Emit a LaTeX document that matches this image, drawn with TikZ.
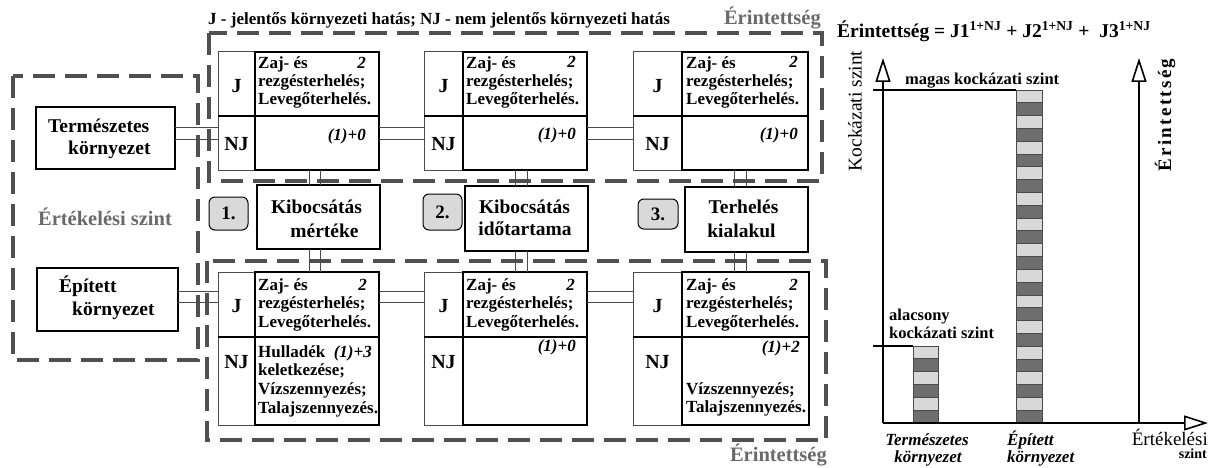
\documentclass[tikz,border=0pt]{standalone}
\usepackage{fontspec}
\setmainfont{Liberation Serif}
\usetikzlibrary{arrows.meta}
\definecolor{dashgray}{HTML}{505050}
\definecolor{labgray}{HTML}{6A6A6A}
\definecolor{numfill}{HTML}{D9D9D9}
\definecolor{stripelight}{HTML}{D8D8D8}
\definecolor{stripedark}{HTML}{6E6E6E}
\definecolor{linegray}{HTML}{4A4A4A}

\tikzset{
  region/.style={draw=dashgray, line width=4pt, dash pattern=on 22pt off 10pt},
  boxnode/.style={draw, line width=1.8pt, inner sep=0pt, outer sep=0pt, anchor=north west},
  jcol/.style={draw=linegray, line width=1pt, inner sep=0pt, outer sep=0pt, anchor=north west},
  conn/.style={draw=linegray, line width=1pt},
  divider/.style={draw=black, line width=1.2pt},
  celltxt/.style={inner sep=0pt, font=\bfseries\fontsize{17}{18}\selectfont},
  numtxt/.style={inner sep=0pt, anchor=base east, font=\bfseries\itshape\fontsize{17}{18}\selectfont},
  jlab/.style={inner sep=0pt, font=\bfseries\fontsize{20}{22}\selectfont},
  boxtxt/.style={inner sep=0pt, anchor=base, font=\bfseries\fontsize{19.5}{22}\selectfont},
  numbox/.style={draw, line width=1pt, fill=numfill, rounded corners=6pt, inner sep=0pt,
    font=\bfseries\fontsize{19}{20}\selectfont},
  graylab/.style={inner sep=0pt, text=labgray, font=\bfseries\fontsize{20.5}{22}\selectfont},
  axis/.style={draw=black, line width=2pt,
    -{Triangle[open, length=24pt, width=15pt, line width=1.6pt]}},
  levelline/.style={draw=black, line width=1.2pt},
  charttxt/.style={inner sep=0pt, font=\bfseries\fontsize{16.5}{18}\selectfont},
  xlab/.style={inner sep=0pt, anchor=base, font=\bfseries\itshape\fontsize{17}{18}\selectfont},
}

% lines of text in a cell: x, first baseline, pitch, lines
\newcommand\celllines[4]{%
  \foreach \t [count=\k from 0] in {#4}{%
    \node[celltxt, anchor=base west] at (#1, {#2+\k*#3}) {\t};}}

% striped risk bar: left, right, top, number of stripes, stripe height
\newcommand\riskbar[5]{%
  \foreach \i in {1,...,#4}{%
    \pgfmathtruncatemacro\oddi{mod(\i,2)}%
    \ifnum\oddi=1 \def\sc{stripelight}\else\def\sc{stripedark}\fi
    \filldraw[fill=\sc, draw=linegray, line width=0.8pt]
      (#1, {#3+(\i-1)*#5}) rectangle (#2, {#3+\i*#5});}}

\begin{document}
\begin{tikzpicture}[x=1pt, y=-1pt]
\useasboundingbox (0,0) rectangle (1210,468);

% ---------- dashed regions ----------
\draw[region] (13,76) rectangle (198,360);
\draw[region] (209,33) rectangle (822,181);
\draw[region] (207,261) rectangle (826,440);

\node[graylab] (evalnote) at (105,217) {Értékelési szint};
\node[graylab, anchor=base east] (affTop) at (821,25) {Érintettség};
\node[graylab, anchor=base east] (affBot) at (827,461) {Érintettség};

\node[anchor=base west, inner sep=0pt, font=\bfseries\fontsize{17}{20}\selectfont] (legend)
  at (208,25) {J - jelentős környezeti hatás; NJ - nem jelentős környezeti hatás};

% ---------- environment boxes ----------
\node[boxnode, minimum width=139pt, minimum height=62pt] (tk) at (36,107) {};
\node[boxtxt, anchor=base west] at (48,133) {Természetes};
\node[boxtxt, anchor=base west] at (68,154) {környezet};

\node[boxnode, minimum width=141pt, minimum height=63pt] (ep) at (37,268) {};
\node[boxtxt, anchor=base west] at (59,292) {Épített};
\node[boxtxt, anchor=base west] at (72,315) {környezet};

% ---------- upper cells ----------
\node[jcol, minimum width=37pt, minimum height=118pt] (c1j) at (218,52) {};
\node[boxnode, minimum width=124pt, minimum height=118pt] (c1) at (255,52) {};
\node[jcol, minimum width=39pt, minimum height=118pt] (c2j) at (424,52) {};
\node[boxnode, minimum width=124pt, minimum height=118pt] (c2) at (463,52) {};
\node[jcol, minimum width=49pt, minimum height=118pt] (c3j) at (633,52) {};
\node[boxnode, minimum width=126pt, minimum height=118pt] (c3) at (682,52) {};
\foreach \a/\b in {c1j/c1, c2j/c2, c3j/c3}{
  \draw[divider] (\a.west |- 0,116) -- (\b.east |- 0,116);}

% ---------- lower cells ----------
\node[jcol, minimum width=37pt, minimum height=153pt] (b1j) at (218,272) {};
\node[boxnode, minimum width=124pt, minimum height=153pt] (b1) at (255,272) {};
\node[jcol, minimum width=39pt, minimum height=153pt] (b2j) at (424,272) {};
\node[boxnode, minimum width=124pt, minimum height=153pt] (b2) at (463,272) {};
\node[jcol, minimum width=49pt, minimum height=153pt] (b3j) at (633,272) {};
\node[boxnode, minimum width=127pt, minimum height=153pt] (b3) at (682,272) {};
\foreach \a/\b in {b1j/b1, b2j/b2, b3j/b3}{
  \draw[divider] (\a.west |- 0,337) -- (\b.east |- 0,337);}

% J / NJ labels
\foreach \c in {c1j, c2j, c3j}{
  \node[jlab] at (\c.center |- 0,86) {J};
  \node[jlab] at (\c.center |- 0,144) {NJ};}
\foreach \c in {b1j, b2j, b3j}{
  \node[jlab] at (\c.center |- 0,306) {J};
  \node[jlab] at (\c.center |- 0,362) {NJ};}

% cell contents
\celllines{258}{69}{18}{Zaj- és, rezgésterhelés;, Levegőterhelés.}
\celllines{466}{69}{18}{Zaj- és, rezgésterhelés;, Levegőterhelés.}
\celllines{686}{69}{18}{Zaj- és, rezgésterhelés;, Levegőterhelés.}
\celllines{258}{290}{18.7}{Zaj- és, rezgésterhelés;, Levegőterhelés.}
\celllines{466}{290}{18.7}{Zaj- és, rezgésterhelés;, Levegőterhelés.}
\celllines{686}{290}{18.7}{Zaj- és, rezgésterhelés;, Levegőterhelés.}
\celllines{258}{357}{18.7}{Hulladék, keletkezése;, Vízszennyezés;, Talajszennyezés.}
\celllines{686}{394}{18.7}{Vízszennyezés;, Talajszennyezés.}

\node[numtxt] at (366,69) {2};
\node[numtxt] at (576,68) {2};
\node[numtxt] at (798,68) {2};
\node[numtxt] at (366,141) {(1)+0};
\node[numtxt] at (576,140) {(1)+0};
\node[numtxt] at (798,140) {(1)+0};
\node[numtxt] at (367,290) {2};
\node[numtxt] at (575,290) {2};
\node[numtxt] at (798,290) {2};
\node[numtxt] at (372,357) {(1)+3};
\node[numtxt] at (576,351) {(1)+0};
\node[numtxt] at (800,352) {(1)+2};

% ---------- emission boxes ----------
\node[boxnode, minimum width=123pt, minimum height=64pt] (k1) at (257,185) {};
\node[boxtxt] at (316.5,213) {Kibocsátás};
\node[boxtxt] at (324.5,237) {mértéke};
\node[boxnode, minimum width=123pt, minimum height=65pt] (k2) at (465,186) {};
\node[boxtxt] at (524.5,213) {Kibocsátás};
\node[boxtxt] at (525,235) {időtartama};
\node[boxnode, minimum width=123pt, minimum height=65pt] (k3) at (685,187) {};
\node[boxtxt] at (743.5,213) {Terhelés};
\node[boxtxt] at (741.5,237) {kialakul};

\node[numbox, minimum width=39pt, minimum height=33pt] (n1) at (228.5,213.5) {1.};
\node[numbox, minimum width=39pt, minimum height=36pt] (n2) at (442.5,212) {2.};
\node[numbox, minimum width=40pt, minimum height=30pt] (n3) at (658,214) {3.};

% ---------- double connectors ----------
\foreach \y in {128,140}{
  \draw[conn] (tk.east |- 0,\y) -- (c1j.west |- 0,\y);
  \draw[conn] (c1.east |- 0,\y) -- (c2j.west |- 0,\y);
  \draw[conn] (c2.east |- 0,\y) -- (c3j.west |- 0,\y);}
\foreach \y in {291,302}{
  \draw[conn] (ep.east |- 0,\y) -- (b1j.west |- 0,\y);
  \draw[conn] (b1.east |- 0,\y) -- (b2j.west |- 0,\y);
  \draw[conn] (b2.east |- 0,\y) -- (b3j.west |- 0,\y);}
\foreach \x in {309,320}{
  \draw[conn] (\x,0 |- c1.south) -- (\x,0 |- k1.north);
  \draw[conn] (\x,0 |- k1.south) -- (\x,0 |- b1.north);}
\foreach \x in {515,527}{
  \draw[conn] (\x,0 |- c2.south) -- (\x,0 |- k2.north);
  \draw[conn] (\x,0 |- k2.south) -- (\x,0 |- b2.north);}
\foreach \x in {734,746}{
  \draw[conn] (\x,0 |- c3.south) -- (\x,0 |- k3.north);
  \draw[conn] (\x,0 |- k3.south) -- (\x,0 |- b3.north);}

% ---------- risk chart ----------
\node[anchor=base west, inner sep=0pt, font=\bfseries\fontsize{19.5}{22}\selectfont] (formula)
  at (837,38) {Érintettség = J1\textsuperscript{1+NJ} + J2\textsuperscript{1+NJ} +~~J3\textsuperscript{1+NJ}};

\coordinate (orig) at (883,423);
\coordinate (ytop) at (883,58);
\coordinate (xend) at (1208,423);
\coordinate (rbase) at (1139,423);
\coordinate (rtop) at (1139,58);

\riskbar{1016}{1042}{90}{26}{12.8077}
\riskbar{913}{938}{346}{6}{12.8333}

\draw[levelline] (873,90) -- (1016,90);
\draw[levelline] (873,346) -- (913,346);

\draw[axis] (orig) -- (ytop);
\draw[axis] (rbase) -- (rtop);
\draw[axis] (orig) -- (xend);

\node[rotate=90, inner sep=0pt, font=\fontsize{19.5}{20}\selectfont] (ylab) at (855,111) {Kockázati szint};
\node[rotate=90, inner sep=0pt, font=\bfseries\fontsize{19}{20}\selectfont] (rlab) at (1165,115)
  {\addfontfeatures{LetterSpace=12}Érintettség};

\node[charttxt, anchor=base west] (high) at (905,85) {magas kockázati szint};
\node[charttxt, anchor=base west] (low1) at (889,320) {alacsony};
\node[charttxt, anchor=base west] (low2) at (889,338) {kockázati szint};

\node[xlab] (xl1) at (927,445) {Természetes};
\node[xlab] (xl2) at (928,462) {környezet};
\node[xlab, anchor=base west] (xl3) at (1007,445) {Épített};
\node[xlab, anchor=base west] (xl4) at (1007,462) {környezet};
\node[inner sep=0pt, anchor=base east, font=\fontsize{19}{20}\selectfont] (xl5) at (1208,445) {Értékelési};
\node[inner sep=0pt, anchor=base east, font=\bfseries\fontsize{14}{16}\selectfont] (xl6) at (1207,458) {szint};
\end{tikzpicture}
\end{document}
